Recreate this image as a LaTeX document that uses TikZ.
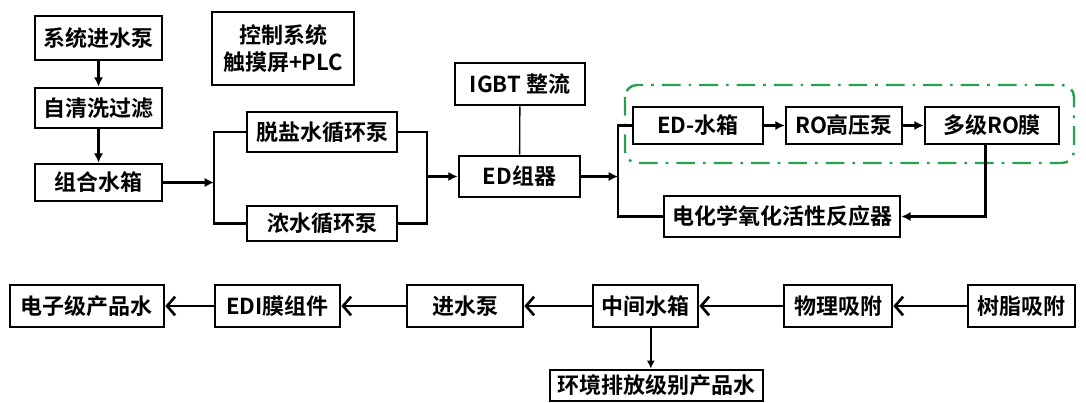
\documentclass[tikz,border=0pt]{standalone}
\usepackage{fontspec}
\newfontfamily\cjk{Noto Sans CJK SC}[BoldFont={Noto Sans CJK SC Bold}]
\usepackage{tikz}
\usetikzlibrary{calc, positioning, arrows.meta}
\definecolor{groupgreen}{RGB}{40,160,80}

\begin{document}
\begin{tikzpicture}[x=0.75pt, y=-0.75pt,
    box/.style={draw, line width=2pt, inner sep=0pt, align=center,
        font=\cjk\bfseries\fontsize{16.5}{20}\selectfont},
    link/.style={line width=1.8pt},
    flow/.style={-{Latex[length=7pt,width=7pt]}, line width=1.8pt},
    back/.style={-{Straight Barb[length=6pt,width=14pt,line width=2pt]}, line width=2pt}]
        \useasboundingbox (0,0) rectangle (1086,403);
        % upper line
        \node[box, minimum width=95.25pt, minimum height=33pt] (pump) at (98.5,38) {系统进水泵};
        \node[box, minimum width=95.25pt, minimum height=30pt] (filter) at (98.5,108) {自清洗过滤};
        \node[box, minimum width=95.25pt, minimum height=27.75pt] (tank) at (98.5,182.5) {组合水箱};
        \node[box, minimum width=106.5pt, minimum height=54.75pt] (ctrl) at (283,48.5) {控制系统\\触摸屏+PLC};
        \node[box, minimum width=112.5pt, minimum height=30pt] (desalt) at (322,132) {脱盐水循环泵};
        \node[box, minimum width=112.5pt, minimum height=26.25pt] (brine) at (322,223.5) {浓水循环泵};
        \node[box, minimum width=97.5pt, minimum height=31.5pt] (igbt) at (520,84) {IGBT 整流};
        \node[box, minimum width=90.75pt, minimum height=30.75pt] (ed) at (519.5,176.5) {ED组器};
        \node[box, minimum width=97.5pt, minimum height=27.75pt] (edtank) at (698,125.5) {ED-水箱};
        \node[box, minimum width=87pt, minimum height=27.75pt] (ropump) at (844,125.5) {RO高压泵};
        \node[box, minimum width=100.5pt, minimum height=27.75pt] (ro) at (992,125.5) {多级RO膜};
        \node[box, minimum width=177pt, minimum height=30.75pt] (reactor) at (782,216.5) {电化学氧化活性反应器};
        \coordinate (jl) at (214,182.5);
        \coordinate (jr) at (427,176.5);
        \coordinate (jm) at (618,176.5);
        \draw[groupgreen, line width=1.8pt, rounded corners=9pt,
            dash pattern=on 14pt off 6pt on 2pt off 6pt] (625,85) rectangle (1074,163);
        \draw[flow] (pump) -- (filter);
        \draw[flow] (filter) -- (tank);
        \draw[flow] (tank.east) -- (jl);
        \draw[link] (desalt.west) -| (jl) |- (brine.west);
        \draw[link] (desalt.east) -| (jr) |- (brine.east);
        \draw[flow] (jr) -- (ed.west);
        \draw[line width=1pt] (igbt) -- (ed);
        \draw[flow] (ed.east) -- (jm);
        \draw[link] (edtank.west) -| (jm) |- (reactor.west);
        \draw[flow] (edtank) -- (ropump);
        \draw[flow] (ropump) -- (ro);
        \draw[flow] ([xshift=-5pt]ro.south) |- (reactor.east);
        % lower line
        \node[box, minimum width=115.5pt, minimum height=31.5pt] (epw) at (87,306) {电子级产品水};
        \node[box, minimum width=93.75pt, minimum height=31.5pt] (edi) at (277.5,306) {EDI膜组件};
        \node[box, minimum width=87pt, minimum height=31.5pt] (feed) at (465,306) {进水泵};
        \node[box, minimum width=78.75pt, minimum height=31.5pt] (mid) at (645.5,306) {中间水箱};
        \node[box, minimum width=81pt, minimum height=31.5pt] (phys) at (838,306) {物理吸附};
        \node[box, minimum width=80.25pt, minimum height=31.5pt] (resin) at (1021.5,306) {树脂吸附};
        \node[box, minimum width=159.75pt, minimum height=23.25pt] (env) at (656.5,385.5) {环境排放级别产品水};
        \draw[back] (resin) -- (phys);
        \draw[back] (phys) -- (mid);
        \draw[back] (mid) -- (feed);
        \draw[back] (feed) -- (edi);
        \draw[back] (edi) -- (epw);
        \draw[-{Latex[length=6pt,width=6pt]}, line width=1.3pt] ([xshift=4pt]mid.south) -- ([xshift=4pt]mid.south |- env.north);
    \end{tikzpicture}
\end{document}
